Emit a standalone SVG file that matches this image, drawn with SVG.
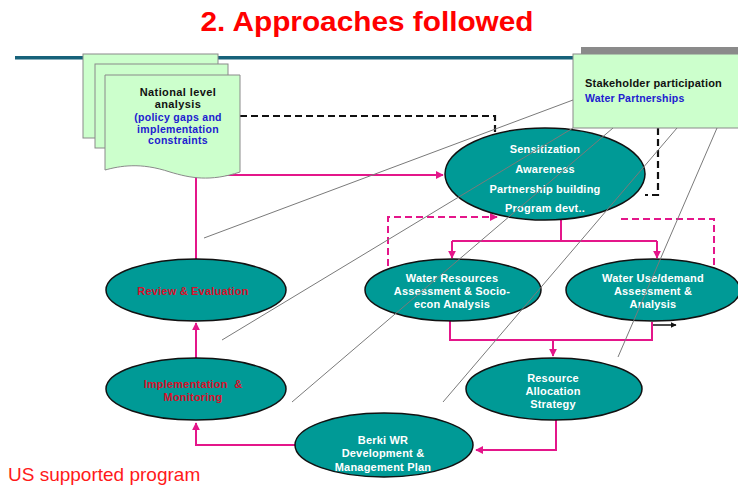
<svg xmlns="http://www.w3.org/2000/svg" width="738" height="485" viewBox="0 0 738 485">
<defs>
<style>
.el{fill:#009a96;stroke:#111;stroke-width:1.5}
.doc{fill:#ccffcc;stroke:#8a8a8a;stroke-width:1}
.wt{font-family:"Liberation Sans",Arial,sans-serif;font-weight:bold;font-size:11px;fill:#fff;text-anchor:middle;letter-spacing:0.2px}
.rt{font-family:"Liberation Sans",Arial,sans-serif;font-weight:bold;font-size:11px;fill:#d8102a;text-anchor:middle;letter-spacing:0.2px}
.bk{font-family:"Liberation Sans",Arial,sans-serif;font-weight:bold;font-size:11px;fill:#111}
.bl{font-family:"Liberation Sans",Arial,sans-serif;font-weight:bold;font-size:10.5px;fill:#2020d0}
.mg{fill:none;stroke:#e4168a;stroke-width:2}
.mgd{fill:none;stroke:#e4168a;stroke-width:2;stroke-dasharray:7,4}
.bkd{fill:none;stroke:#111;stroke-width:2.2;stroke-dasharray:7,4}
.ray{stroke:#7a7a7a;stroke-width:1;fill:none}
</style>
<marker id="am" viewBox="0 0 10 10" refX="9" refY="5" markerWidth="4" markerHeight="4" orient="auto"><path d="M0,0L10,5L0,10z" fill="#e4168a"/></marker>
<marker id="ab" viewBox="0 0 10 10" refX="9" refY="5" markerWidth="4" markerHeight="4" orient="auto"><path d="M0,0L10,5L0,10z" fill="#111"/></marker>
</defs>
<rect width="738" height="485" fill="#fff"/>
<text x="367" y="31" font-family="Liberation Sans,Arial,sans-serif" font-weight="bold" font-size="27" fill="#ff0000" text-anchor="middle" textLength="333" lengthAdjust="spacingAndGlyphs">2. Approaches followed</text>
<rect x="15" y="56" width="723" height="3.5" fill="#17627a"/>
<rect x="581" y="47" width="157" height="8" fill="#8a8a8a"/>

<g id="connectors">
<path class="mg" d="M196,259V175H443" marker-end="url(#am)"/>
<path class="mg" d="M196,358V323" marker-end="url(#am)"/>
<path class="mg" d="M295,445H196V423" marker-end="url(#am)"/>
<path class="mg" d="M556,420V450H476" marker-end="url(#am)"/>
<path class="mg" d="M561,220V241"/>
<path class="mg" d="M452,241H657"/>
<path class="mg" d="M452,241V258" marker-end="url(#am)"/>
<path class="mg" d="M657,241V258" marker-end="url(#am)"/>
<path class="mg" d="M450,321V340H652V322"/>
<path class="mg" d="M553,340V356" marker-end="url(#am)"/>
<path d="M653,325H676" stroke="#111" stroke-width="1.5" fill="none" marker-end="url(#ab)"/>
<path class="mgd" d="M388,266V217H497" marker-end="url(#am)"/>
<path class="mgd" d="M714,265V219H620V222"/>
<path class="bkd" d="M240,116H495V168" marker-end="url(#ab)"/>
<path class="bkd" d="M658,128V195H645"/>
</g>

<g id="national">
<rect class="doc" x="83" y="54" width="135" height="84"/>
<rect class="doc" x="95" y="64" width="133" height="84"/>
<path class="doc" d="M105,75H240V172C210,182 190,178 170,172C140,162 120,166 105,170Z"/>
<text class="bk" x="178" y="96" text-anchor="middle" letter-spacing="0.4">National level</text>
<text class="bk" x="178" y="108" text-anchor="middle" letter-spacing="0.4">analysis</text>
<text class="bl" x="178" y="121" text-anchor="middle" letter-spacing="0.3">(policy gaps and</text>
<text class="bl" x="178" y="133" text-anchor="middle" letter-spacing="0.3">implementation</text>
<text class="bl" x="178" y="144" text-anchor="middle" letter-spacing="0.3">constraints</text>
</g>

<g id="stakeholder">
<rect class="doc" x="573" y="54" width="170" height="74"/>
<text class="bk" x="585" y="87" letter-spacing="0.2">Stakeholder participation</text>
<text class="bl" x="585" y="102" font-size="11" letter-spacing="0.2">Water Partnerships</text>
</g>

<g id="sensitization">
<ellipse class="el" cx="545" cy="174" rx="100" ry="46"/>
<text class="wt" x="545" y="153">Sensitization</text>
<text class="wt" x="545" y="173">Awareness</text>
<text class="wt" x="545" y="193">Partnership building</text>
<text class="wt" x="545" y="212">Program devt..</text>
</g>

<g id="water-resources">
<ellipse class="el" cx="453" cy="290" rx="88" ry="31"/>
<text class="wt" x="452" y="282">Water Resources</text>
<text class="wt" x="452" y="295">Assessment &amp; Socio-</text>
<text class="wt" x="452" y="308">econ Analysis</text>
</g>

<g id="water-use">
<ellipse class="el" cx="653" cy="290" rx="87" ry="31"/>
<text class="wt" x="653" y="282">Water Use/demand</text>
<text class="wt" x="653" y="295">Assessment &amp;</text>
<text class="wt" x="653" y="308">Analysis</text>
</g>

<g id="review">
<ellipse class="el" cx="196" cy="290" rx="90" ry="31"/>
<text class="rt" x="193" y="295">Review &amp; Evaluation</text>
</g>

<g id="implementation">
<ellipse class="el" cx="196" cy="389" rx="90" ry="31"/>
<text class="rt" x="193" y="388" xml:space="preserve">Implementation  &amp;</text>
<text class="rt" x="193" y="401">Monitoring</text>
</g>

<g id="resource">
<ellipse class="el" cx="554" cy="389" rx="88" ry="31"/>
<text class="wt" x="553" y="382">Resource</text>
<text class="wt" x="553" y="395">Allocation</text>
<text class="wt" x="553" y="408">Strategy</text>
</g>

<g id="berki">
<ellipse class="el" cx="384" cy="445" rx="89" ry="32"/>
<text class="wt" x="383" y="444">Berki WR</text>
<text class="wt" x="383" y="457">Development &amp;</text>
<text class="wt" x="383" y="471">Management Plan</text>
</g>

<g id="rays">
<line class="ray" x1="204" y1="238" x2="573" y2="100"/>
<line class="ray" x1="222" y1="340" x2="573" y2="128"/>
<line class="ray" x1="292" y1="402" x2="613" y2="128"/>
<line class="ray" x1="443" y1="402" x2="677" y2="128"/>
<line class="ray" x1="618" y1="357" x2="717" y2="128"/>
</g>

<text x="8" y="481" font-family="Liberation Sans,Arial,sans-serif" font-size="19" fill="#ff1a1a">US supported program</text>
</svg>
